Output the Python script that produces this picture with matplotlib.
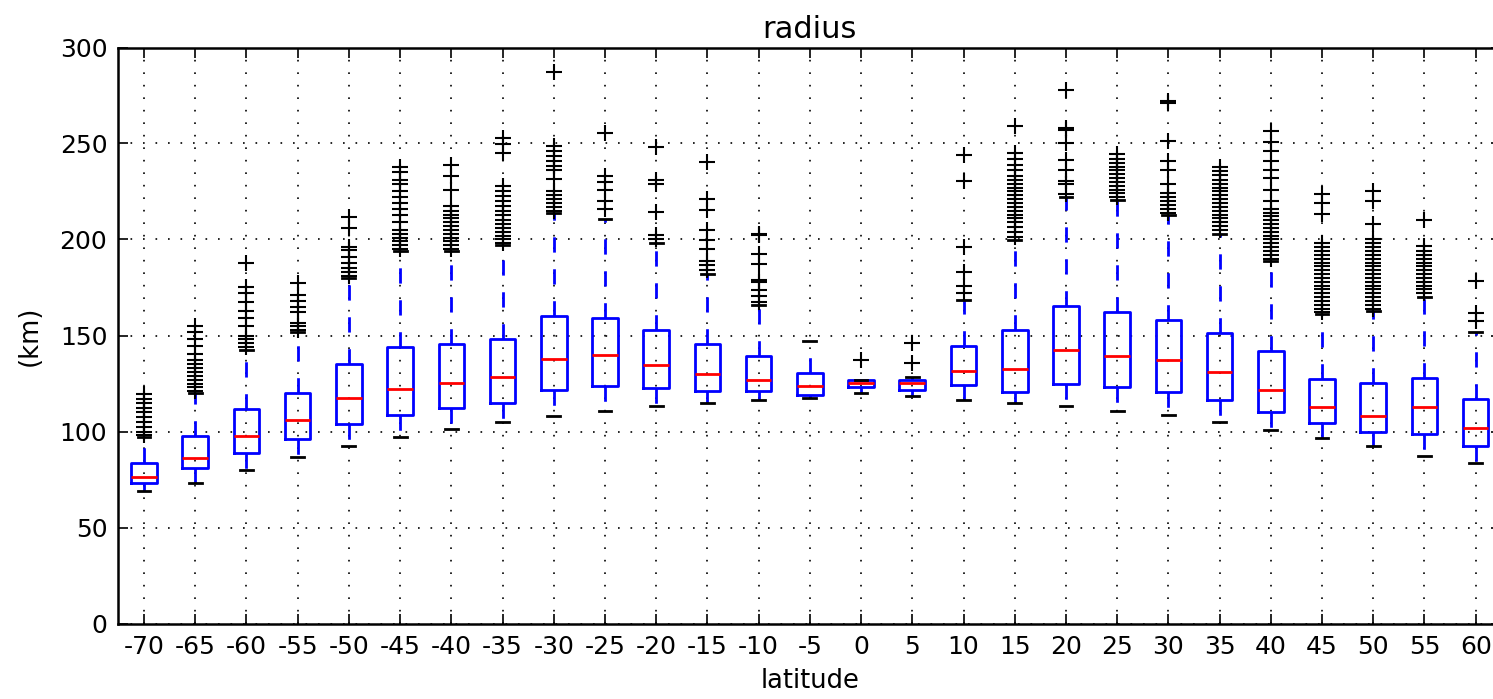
import matplotlib
matplotlib.use('Agg')
import matplotlib.pyplot as plt

lat_labels = ['-70', '-65', '-60', '-55', '-50', '-45', '-40', '-35', '-30', '-25', '-20', '-15', '-10',
              '-5', '0', '5', '10', '15', '20', '25', '30', '35', '40', '45', '50', '55', '60']

# box stats (km)
q1 = [73, 81, 89, 96, 104, 108.7, 112, 115, 121.5, 123.7, 122.9, 121.2, 121.2,
      119, 123.3, 121.5, 124.2, 120.8, 125, 123.2, 120.8, 116.6, 110.2, 104.3, 99.5, 98.8, 92.5]
med = [76.3, 86.4, 97.5, 106, 117.4, 121.9, 125.3, 128.4, 137.6, 139.9, 134.8, 130.2, 126.7,
       123.8, 125.3, 125.5, 131.6, 132.4, 142.3, 139.2, 137.1, 131, 121.5, 113, 108.3, 112.7, 101.7]
q3 = [83.8, 97.5, 111.7, 119.9, 135.3, 144, 145.4, 148.4, 160, 159.3, 153, 145.8, 139.2,
      130.7, 127, 126.7, 144.6, 153, 165.2, 162.2, 157.9, 151.5, 142, 127.3, 125.2, 127.8, 116.9]
whislo = [68.9, 73, 80, 86.5, 92.5, 97.2, 101.4, 104.7, 108, 110.7, 113.2, 115.1, 116.3,
          117.5, 119.8, 118.6, 116.3, 114.6, 113.2, 110.7, 108.5, 104.7, 101, 96.5, 92.5, 87, 83.5]
whishi = [97, 120, 142.5, 152, 180, 194, 194, 197, 214, 210.5, 198, 182, 165.8,
          147.2, 127, 128.4, 168.5, 199.5, 222, 220.5, 212.5, 203, 189, 161, 163, 170, 151.6]

fliers = [
    [98, 100, 102.5, 105, 107.5, 110, 112.5, 115, 117, 119.5],
    [121, 123, 125, 127, 129, 131, 133, 135, 137.5, 140.5, 144.5, 148, 152, 155],
    [144, 146, 148, 150, 155, 159, 163, 167.5, 172, 175.5, 188],
    [153, 155, 156.5, 162.5, 165, 168, 171, 177.5],
    [181, 183, 185, 188, 191, 194.5, 196, 206, 211.5],
    [195, 197, 199, 201, 203, 205, 209, 213, 216, 219, 222, 225.5, 229, 231, 235, 237.5],
    [195, 197, 199, 201, 203, 205, 207, 209, 211, 213, 215, 217.5, 226, 233, 239],
    [198, 200, 202, 204, 206, 208, 210, 212.5, 215, 217.5, 220, 222.5, 225, 228, 245, 249.5, 253],
    [215, 217, 219, 221, 223, 225.5, 231.5, 236, 238.5, 241, 243.5, 246, 248.5, 287.5],
    [216, 220, 226, 230, 233, 255.5],
    [200, 202.5, 214.5, 229, 231, 248],
    [184, 186.5, 189, 195, 199.5, 205, 215.5, 221, 240.5],
    [167.5, 170.5, 173.5, 178, 179, 187.5, 192.5, 202.3, 203],
    [],
    [137.5],
    [135.5, 146],
    [172, 176, 183, 196, 230.5, 244],
    [201.5, 204, 206.5, 209, 211, 213, 215, 217, 219, 221, 223, 225, 227, 229, 231, 233,
     236, 239, 242, 245, 259],
    [223.5, 229, 230.5, 236, 241.5, 250, 257, 258, 278],
    [222, 224, 226, 228, 230, 232, 234, 236, 238, 240, 242, 244.5],
    [214, 216, 218, 220, 222, 224, 229, 236, 241, 251.5, 271, 272],
    [205, 207, 209, 211, 213, 215, 217, 219, 221, 223, 225, 227, 229, 231, 233.5, 235.5, 237.5],
    [190, 192, 194, 196, 198, 200, 202, 204, 206, 208, 210, 212, 214, 216, 220, 226,
     232, 236, 241, 246, 251, 256.5],
    [162, 164, 166, 168, 170, 172, 174, 176, 178, 180, 182, 184, 186, 188, 190,
     192, 194, 196, 198, 213.5, 219, 223.5],
    [164, 166, 168, 170, 172, 174, 176, 178, 180, 182, 184, 186, 188, 190, 192, 194,
     196, 198, 200, 208, 220, 225.5],
    [172, 174, 176, 178, 180, 182, 184, 186, 188, 190, 192, 194, 196.5, 210],
    [157.5, 161.5, 178.5],
]

stats = []
for i in range(len(lat_labels)):
    stats.append(dict(med=med[i], q1=q1[i], q3=q3[i], whislo=whislo[i], whishi=whishi[i],
                      fliers=fliers[i], label=lat_labels[i]))

plt.rcParams['font.family'] = 'DejaVu Sans'
plt.rcParams['font.size'] = 18

fig = plt.figure(figsize=(14.93, 6.99), dpi=100)
ax = fig.add_axes([118.4 / 1493, 75.5 / 699, (1501.3 - 118.4) / 1493, 576 / 699])

ax.bxp(stats, widths=0.5,
       boxprops=dict(color='blue', linewidth=2),
       medianprops=dict(color='red', linewidth=2),
       whiskerprops=dict(color='blue', linewidth=2, linestyle=(0, (5.5, 6))),
       capprops=dict(color='black', linewidth=2),
       flierprops=dict(marker='+', markeredgecolor='black', markersize=11, markeredgewidth=1.5,
                       linestyle='none'))

ax.set_ylim(0, 300)
ax.set_xlim(0.5, len(lat_labels) + 0.5)
ax.set_yticks([0, 50, 100, 150, 200, 250, 300])
ax.grid(True, color='black', linestyle=(0, (1, 6.5)), linewidth=1.2)
ax.set_axisbelow(True)
ax.tick_params(direction='in', length=7, width=1.2, top=True, right=True, pad=8, labelsize=18)
for s in ax.spines.values():
    s.set_linewidth(1.8)

ax.set_title('radius', fontsize=22, pad=7)
ax.set_ylabel('(km)', fontsize=18.5, labelpad=12)
ax.set_xlabel('latitude', fontsize=18.5, labelpad=7)

fig.savefig('out.png', dpi=100)
